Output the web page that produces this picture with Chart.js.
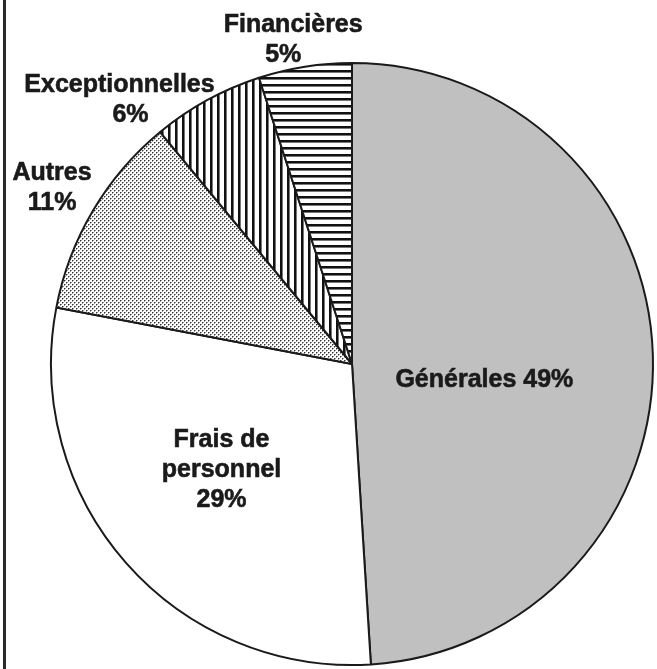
<!DOCTYPE html>
<html>
<head>
<meta charset="utf-8">
<script src="https://cdn.jsdelivr.net/npm/chart.js@4/dist/chart.umd.min.js"></script>
<style>
  html, body { margin: 0; padding: 0; background: #fff; }
  #wrap { position: relative; width: 657px; height: 669px; }
  #edge { position: absolute; left: 3px; top: 0; width: 3px; height: 669px; background: #2a2a2a; }
  canvas { position: absolute; left: 0; top: 0; }
</style>
</head>
<body>
<div id="wrap">
  <canvas id="pieChart" width="657" height="669"></canvas>
  <div id="edge"></div>
</div>
<script>
  // data
  const categories = ['Générales', 'Frais de personnel', 'Autres', 'Exceptionnelles', 'Financières'];
  const values = [49, 29, 11, 6, 5];

  // how each label is broken into lines
  const nameLines = [['Générales'], ['Frais de', 'personnel'], ['Autres'], ['Exceptionnelles'], ['Financières']];
  const pctInline = [true, false, false, false, false];

  // label placement: point at k * radius along the slice middle, then nudged
  const labelPlace = [
    { k: 0.44, dx: 0, dy: 27, pctDx: 0 },
    { k: 0.60, dx: 5, dy: -36, pctDx: 0 },
    { k: 1.15, dx: -2, dy: -8, pctDx: 0 },
    { k: 1.10, dx: -73, dy: 18, pctDx: 11 },
    { k: 1.10, dx: -7, dy: -5, pctDx: -10 }
  ];

  function makePattern(kind) {
    const c = document.createElement('canvas');
    const g = c.getContext('2d');
    if (kind === 'dots') {
      c.width = 4; c.height = 4;
      g.fillStyle = '#ffffff';
      g.fillRect(0, 0, 4, 4);
      g.fillStyle = '#9a9a9a';
      g.fillRect(0, 0, 2, 1);
      g.fillRect(2, 2, 2, 1);
      g.fillRect(0, 1, 1, 1);
      g.fillRect(2, 3, 1, 1);
      g.fillStyle = '#333333';
      g.fillRect(0, 0, 1, 1);
      g.fillRect(2, 2, 1, 1);
    } else if (kind === 'vertical') {
      c.width = 7; c.height = 1;
      g.fillStyle = '#ffffff';
      g.fillRect(0, 0, 7, 1);
      g.fillStyle = '#111111';
      g.fillRect(0, 0, 2, 1);
      g.fillStyle = '#777777';
      g.fillRect(2, 0, 1, 1);
    } else {
      c.width = 1; c.height = 7;
      g.fillStyle = '#ffffff';
      g.fillRect(0, 0, 1, 7);
      g.fillStyle = '#111111';
      g.fillRect(0, 0, 1, 2);
      g.fillStyle = '#777777';
      g.fillRect(0, 2, 1, 1);
    }
    return g.createPattern(c, 'repeat');
  }

  const fills = ['#c0c0c0', '#ffffff', makePattern('dots'), makePattern('vertical'), makePattern('horizontal')];

  const sliceLabels = {
    id: 'sliceLabels',
    afterDatasetsDraw(chart) {
      const ctx = chart.ctx;
      const arcs = chart.getDatasetMeta(0).data;
      ctx.save();
      ctx.font = 'bold 25px "Liberation Sans", Arial, sans-serif';
      ctx.fillStyle = '#1a1a1a';
      ctx.strokeStyle = '#1a1a1a';
      ctx.lineWidth = 0.6;
      ctx.textAlign = 'center';
      ctx.textBaseline = 'alphabetic';
      const put = (t, x, y) => { ctx.fillText(t, x, y); ctx.strokeText(t, x, y); };
      arcs.forEach((arc, i) => {
        const p = arc.getProps(['x', 'y', 'startAngle', 'endAngle', 'outerRadius'], true);
        const mid = (p.startAngle + p.endAngle) / 2;
        const pl = labelPlace[i];
        const ax = p.x + Math.cos(mid) * p.outerRadius * pl.k + pl.dx;
        const ay = p.y + Math.sin(mid) * p.outerRadius * pl.k + pl.dy;
        const pct = values[i] + '%';
        let lines = nameLines[i].slice();
        if (pctInline[i]) {
          lines[lines.length - 1] += ' ' + pct;
        }
        lines.forEach((t, j) => put(t, ax, ay + j * 30));
        if (!pctInline[i]) {
          put(pct, ax + pl.pctDx, ay + lines.length * 30);
        }
      });
      ctx.restore();
    }
  };

  const ctx = document.getElementById('pieChart').getContext('2d');
  const pieChart = new Chart(ctx, {
    type: 'pie',
    data: {
      labels: categories,
      datasets: [{
        data: values,
        backgroundColor: fills,
        borderColor: '#1a1a1a',
        borderWidth: 2
      }]
    },
    options: {
      responsive: false,
      animation: false,
      layout: { padding: { left: 50, top: 62, right: 3, bottom: 3 } },
      plugins: {
        legend: { display: false },
        tooltip: { enabled: false }
      }
    },
    plugins: [sliceLabels]
  });
</script>
</body>
</html>
